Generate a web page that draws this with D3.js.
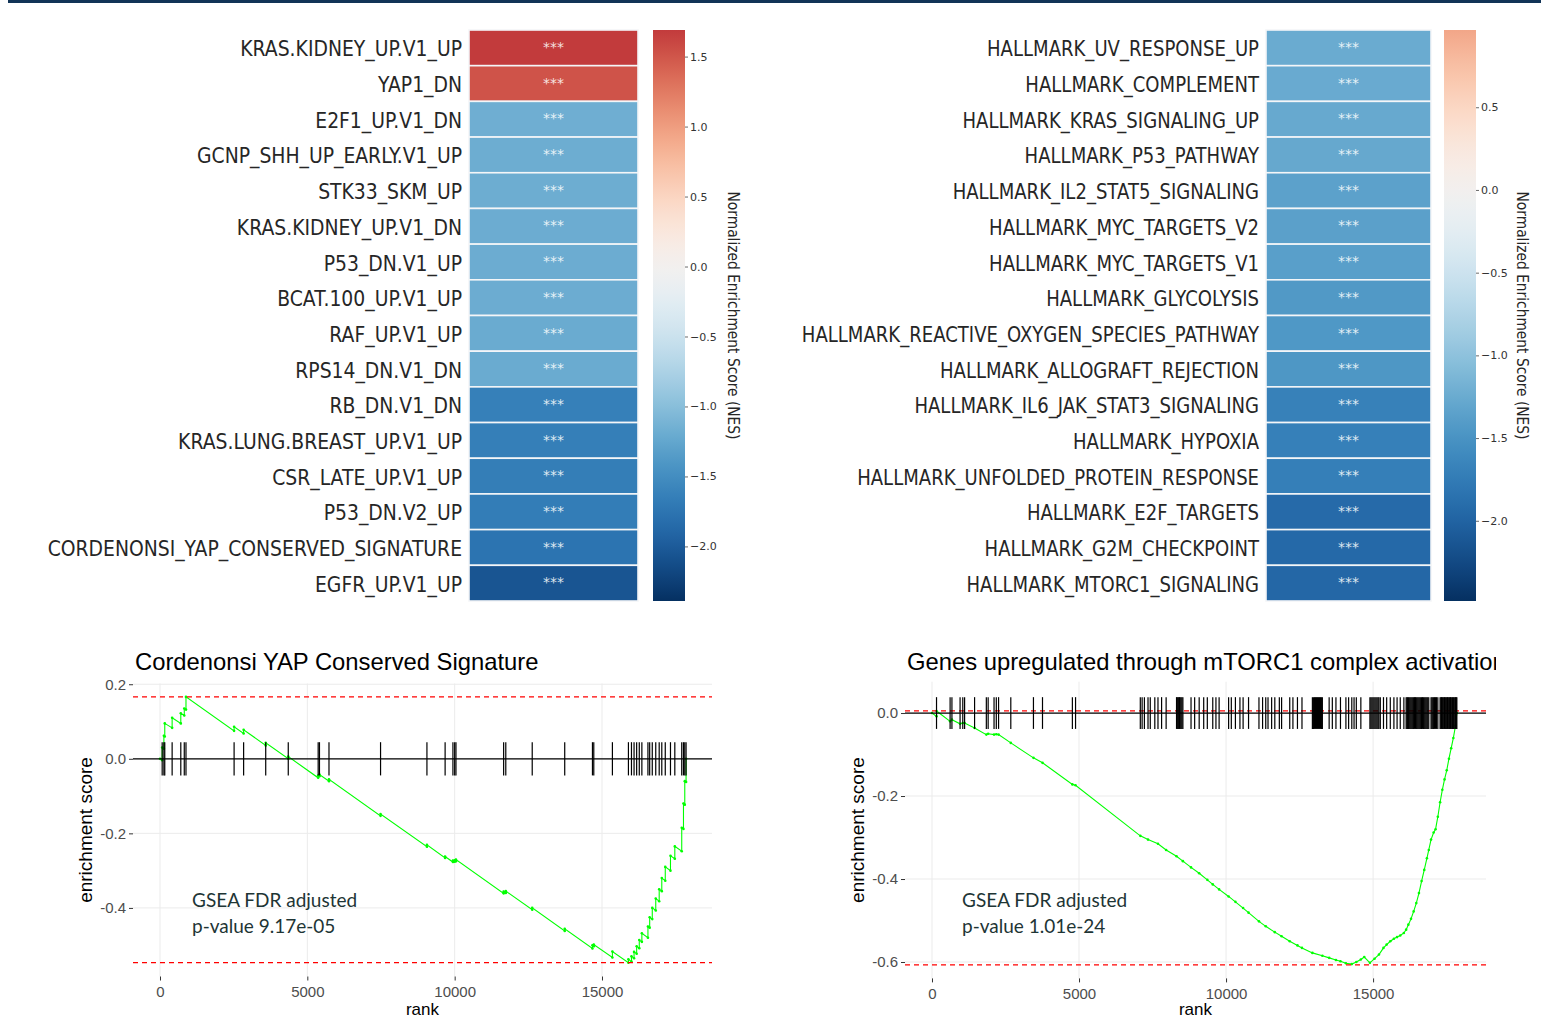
<!DOCTYPE html>
<html>
<head>
<meta charset="utf-8">
<script src="https://cdn.jsdelivr.net/npm/d3@7"></script>
<style>
body { margin: 0; background: #fff; }
svg { display: block; }
</style>
</head>
<body>
<svg id="chart" width="1541" height="1020"></svg>
<script>
// ---- heatmap data ----
var leftSets = ["KRAS.KIDNEY_UP.V1_UP", "YAP1_DN", "E2F1_UP.V1_DN", "GCNP_SHH_UP_EARLY.V1_UP",
    "STK33_SKM_UP", "KRAS.KIDNEY_UP.V1_DN", "P53_DN.V1_UP", "BCAT.100_UP.V1_UP", "RAF_UP.V1_UP",
    "RPS14_DN.V1_DN", "RB_DN.V1_DN", "KRAS.LUNG.BREAST_UP.V1_UP", "CSR_LATE_UP.V1_UP",
    "P53_DN.V2_UP", "CORDENONSI_YAP_CONSERVED_SIGNATURE", "EGFR_UP.V1_UP"];
var leftNes = [1.69, 1.52, -1.17, -1.18, -1.18, -1.19, -1.19, -1.19, -1.20, -1.20,
    -1.64, -1.65, -1.66, -1.67, -1.76, -2.06];
var leftStars = ["***", "***", "***", "***", "***", "***", "***", "***", "***", "***",
    "***", "***", "***", "***", "***", "***"];

var rightSets = ["HALLMARK_UV_RESPONSE_UP", "HALLMARK_COMPLEMENT", "HALLMARK_KRAS_SIGNALING_UP",
    "HALLMARK_P53_PATHWAY", "HALLMARK_IL2_STAT5_SIGNALING", "HALLMARK_MYC_TARGETS_V2",
    "HALLMARK_MYC_TARGETS_V1", "HALLMARK_GLYCOLYSIS", "HALLMARK_REACTIVE_OXYGEN_SPECIES_PATHWAY",
    "HALLMARK_ALLOGRAFT_REJECTION", "HALLMARK_IL6_JAK_STAT3_SIGNALING", "HALLMARK_HYPOXIA",
    "HALLMARK_UNFOLDED_PROTEIN_RESPONSE", "HALLMARK_E2F_TARGETS", "HALLMARK_G2M_CHECKPOINT",
    "HALLMARK_MTORC1_SIGNALING"];
var rightNes = [-1.25, -1.26, -1.27, -1.28, -1.35, -1.36, -1.37, -1.44, -1.45, -1.46,
    -1.69, -1.70, -1.71, -1.93, -1.94, -1.96];
var rightStars = leftStars;

var leftCbRange = [-2.39, 1.69];
var leftCbTicks = [-2, -1.5, -1, -0.5, 0, 0.5, 1, 1.5];
var rightCbRange = [-2.485, 0.967];
var rightCbTicks = [-2, -1.5, -1, -0.5, 0, 0.5];

// ---- running enrichment score plots ----
var yapHits = [74, 132, 162, 412, 706, 824, 882, 2515, 2838, 3588, 4353, 5368, 5412, 5735, 7485,
    9059, 9676, 9941, 10000, 10044, 11662, 11735, 12632, 13735, 14676, 14721, 15353, 15897, 16000,
    16088, 16176, 16265, 16353, 16559, 16618, 16706, 16824, 16941, 17029, 17147, 17324, 17471,
    17706, 17765, 17809, 17853];
var yapCurve = [[0, 0], [74, -0.004], [74, 0.030], [132, 0.027], [132, 0.062], [162, 0.060],
    [162, 0.095], [412, 0.083], [412, 0.110], [706, 0.095], [706, 0.122], [824, 0.116], [824, 0.135],
    [882, 0.132], [882, 0.166], [2515, 0.075], [2515, 0.086], [2838, 0.068], [2838, 0.078],
    [3588, 0.036], [3588, 0.043], [4353, 0.0], [4353, 0.006], [5368, -0.051], [5368, -0.045],
    [5412, -0.047], [5412, -0.042], [5735, -0.060], [5735, -0.055], [7485, -0.153], [7485, -0.148],
    [9059, -0.236], [9059, -0.231], [9676, -0.266], [9676, -0.262], [9941, -0.277], [9941, -0.273],
    [10000, -0.276], [10000, -0.272], [10044, -0.275], [10044, -0.270], [11662, -0.361],
    [11662, -0.356], [11735, -0.360], [11735, -0.355], [12632, -0.405], [12632, -0.400],
    [13735, -0.462], [13735, -0.456], [14676, -0.509], [14676, -0.500], [14721, -0.503],
    [14721, -0.498], [15353, -0.533], [15353, -0.517], [15897, -0.547], [15897, -0.538],
    [16000, -0.544], [16000, -0.530], [16088, -0.535], [16088, -0.518], [16176, -0.523],
    [16176, -0.503], [16265, -0.508], [16265, -0.486], [16353, -0.491], [16353, -0.468],
    [16559, -0.480], [16559, -0.450], [16618, -0.453], [16618, -0.425], [16706, -0.430],
    [16706, -0.400], [16824, -0.407], [16824, -0.375], [16941, -0.382], [16941, -0.350],
    [17029, -0.355], [17029, -0.320], [17147, -0.327], [17147, -0.290], [17324, -0.300],
    [17324, -0.260], [17471, -0.268], [17471, -0.235], [17706, -0.248], [17706, -0.185],
    [17765, -0.188], [17765, -0.120], [17809, -0.123], [17809, -0.060], [17853, -0.062], [17853, 0]];
var yapEsRange = [-0.547, 0.166];

var mtorHits = [154, 616, 678, 955, 1047, 1109, 1448, 1848, 1910, 2110, 2187, 2264, 2680, 3450,
    3758, 4774, 4882, 7084, 7146, 7223, 7346, 7423, 7577, 7685, 7808, 7962, 8316, 8340, 8365, 8390,
    8415, 8440, 8470, 8500, 8532, 8809, 8932, 9086, 9240, 9363, 9548, 9656, 9764, 10087, 10179,
    10318, 10472, 10580, 10765, 11119, 11242, 11350, 11427, 11550, 11658, 11812, 11889, 12166,
    12274, 12428, 12582, 12936, 12970, 13005, 13040, 13075, 13110, 13145, 13180, 13215, 13250,
    13275, 13506, 13614, 13737, 13891, 14076, 14168, 14276, 14353, 14430, 14584, 14892, 14925,
    14960, 14995, 15030, 15065, 15100, 15135, 15170, 15200, 15246, 15354, 15462, 15585, 15708,
    15816, 15924, 16047, 16124, 16150, 16175, 16200, 16230, 16260, 16290, 16320, 16350, 16380,
    16410, 16440, 16470, 16500, 16530, 16560, 16590, 16620, 16650, 16680, 16710, 16740, 16770,
    16800, 16830, 16860, 16894, 16971, 17000, 17030, 17060, 17090, 17125, 17160, 17202, 17279,
    17305, 17330, 17355, 17380, 17405, 17430, 17455, 17480, 17505, 17530, 17555, 17580, 17605,
    17630, 17655, 17680, 17705, 17730, 17755, 17780, 17805, 17830, 17849];
var mtorCurve = [[0, 0], [154, -0.008], [154, 0.005], [616, -0.020], [678, -0.016], [955, -0.026],
    [1047, -0.024], [1109, -0.024], [1448, -0.036], [1848, -0.052], [1910, -0.050], [2110, -0.052],
    [2187, -0.051], [2264, -0.052], [2680, -0.072], [3450, -0.108], [3758, -0.120], [4774, -0.172],
    [4882, -0.174], [7084, -0.296], [7346, -0.305], [7685, -0.315], [7962, -0.330], [8316, -0.345],
    [8532, -0.357], [8809, -0.372], [9086, -0.386], [9363, -0.402], [9548, -0.413], [9764, -0.425],
    [10087, -0.442], [10318, -0.455], [10580, -0.470], [10765, -0.481], [11119, -0.502],
    [11350, -0.514], [11658, -0.528], [11889, -0.538], [12166, -0.550], [12428, -0.560],
    [12582, -0.566], [12936, -0.578], [13275, -0.585], [13506, -0.590], [13737, -0.595],
    [13891, -0.598], [14076, -0.603], [14276, -0.605], [14430, -0.600], [14584, -0.594],
    [14700, -0.588], [14892, -0.602], [15050, -0.592], [15200, -0.582], [15354, -0.566],
    [15462, -0.558], [15585, -0.550], [15708, -0.544], [15816, -0.540], [15924, -0.536],
    [16047, -0.530], [16124, -0.522], [16200, -0.510], [16290, -0.496], [16380, -0.478],
    [16470, -0.458], [16560, -0.434], [16650, -0.405], [16740, -0.378], [16830, -0.350],
    [16894, -0.330], [16971, -0.305], [17060, -0.288], [17125, -0.280], [17202, -0.250],
    [17279, -0.215], [17355, -0.185], [17430, -0.160], [17505, -0.138], [17580, -0.110],
    [17655, -0.085], [17730, -0.060], [17805, -0.030], [17849, 0]];
var mtorEsRange = [-0.607, 0.005];

var rankTicks = [0, 5000, 10000, 15000];
var yapScoreTicks = [0.2, 0, -0.2, -0.4];
var mtorScoreTicks = [0, -0.2, -0.4, -0.6];

var svg = d3.select('#chart');

// thin banner rule across the top of the slide
svg.append('rect')
    .attr('x', 8).attr('y', 0)
    .attr('width', 1533).attr('height', 3)
    .attr('fill', '#123457');

drawHeatmap(svg.append('g'), {
    names: leftSets, values: leftNes, stars: leftStars,
    cbRange: leftCbRange, cbTicks: leftCbTicks,
    left: 469, right: 638, top: 30, bottom: 601,
    labelX: 462, labelScale: 0.895, cbLeft: 653, cbWidth: 32, titleX: 733, id: 'cbL'
});

drawHeatmap(svg.append('g'), {
    names: rightSets, values: rightNes, stars: rightStars,
    cbRange: rightCbRange, cbTicks: rightCbTicks,
    left: 1266, right: 1431, top: 30, bottom: 601,
    labelX: 1259, labelScale: 0.86, cbLeft: 1444, cbWidth: 32, titleX: 1522, id: 'cbR'
});

drawGsea(svg.append('g'), {
    title: 'Cordenonsi YAP Conserved Signature', titleX: 135,
    hits: yapHits, curve: yapCurve, esRange: yapEsRange,
    yTicks: yapScoreTicks,
    xDomain: [-916, 18733], yDomain: [-0.584, 0.202],
    left: 133, right: 712, top: 683.5, bottom: 976.5,
    yLabelX: 85, pval: 'p-value 9.17e-05', noteX: 192
});

drawGsea(svg.append('g'), {
    title: 'Genes upregulated through mTORC1 complex activation', titleX: 907,
    hits: mtorHits, curve: mtorCurve, esRange: mtorEsRange,
    yTicks: mtorScoreTicks,
    xDomain: [-918, 18840], yDomain: [-0.6395, 0.0755],
    left: 905, right: 1486, top: 681.7, bottom: 978.4,
    yLabelX: 857, pval: 'p-value 1.01e-24', noteX: 962, clip: 1496
});

function drawHeatmap(g, o) {
    var m = d3.max(o.cbRange, Math.abs);
    var color = d3.scaleDiverging(function(t) { return d3.interpolateRdBu(1 - t); })
        .domain([-m, 0, m]);

    var y = d3.scaleBand()
        .domain(o.names)
        .range([o.top, o.bottom]);

    g.selectAll('rect.cell')
        .data(o.names)
        .enter()
        .append('rect')
        .attr('class', 'cell')
        .attr('x', o.left)
        .attr('y', function(d) { return y(d); })
        .attr('width', o.right - o.left)
        .attr('height', y.bandwidth())
        .attr('fill', function(d, i) { return color(o.values[i]); })
        .attr('stroke', '#f4f6f8')
        .attr('stroke-width', 1.6);

    g.selectAll('text.star')
        .data(o.names)
        .enter()
        .append('text')
        .attr('class', 'star')
        .attr('x', (o.left + o.right) / 2)
        .attr('y', function(d) { return y(d) + y.bandwidth() / 2; })
        .attr('dy', '0.3em')
        .attr('text-anchor', 'middle')
        .attr('font-family', 'DejaVu Sans')
        .attr('font-size', '14px')
        .attr('fill', '#ffffff')
        .attr('fill-opacity', 0.85)
        .text(function(d, i) { return o.stars[i]; });

    // row labels (matplotlib text, squeezed horizontally in the slide)
    g.selectAll('text.row')
        .data(o.names)
        .enter()
        .append('text')
        .attr('class', 'row')
        .attr('transform', function(d) {
            return 'translate(' + o.labelX + ',' + (y(d) + y.bandwidth() / 2 + 1) + ') scale(' + o.labelScale + ',1)';
        })
        .attr('dy', '0.36em')
        .attr('text-anchor', 'end')
        .attr('font-family', 'DejaVu Sans')
        .attr('font-size', '21px')
        .attr('fill', '#262626')
        .text(function(d) { return d; });

    // colour bar
    var cb = d3.scaleLinear()
        .domain(o.cbRange)
        .range([o.bottom, o.top]);

    var grad = g.append('defs').append('linearGradient')
        .attr('id', o.id)
        .attr('x1', 0).attr('y1', 1).attr('x2', 0).attr('y2', 0);
    grad.selectAll('stop')
        .data(d3.range(0, 1.0001, 0.02))
        .enter()
        .append('stop')
        .attr('offset', function(t) { return t; })
        .attr('stop-color', function(t) {
            return color(o.cbRange[0] + t * (o.cbRange[1] - o.cbRange[0]));
        });

    g.append('rect')
        .attr('x', o.cbLeft).attr('y', o.top)
        .attr('width', o.cbWidth).attr('height', o.bottom - o.top)
        .attr('fill', 'url(#' + o.id + ')');

    var cbAxis = d3.axisRight(cb)
        .tickValues(o.cbTicks)
        .tickSize(3)
        .tickPadding(2)
        .tickFormat(d3.format('.1f'));

    var ax = g.append('g')
        .attr('transform', 'translate(' + (o.cbLeft + o.cbWidth) + ',0)')
        .call(cbAxis);
    ax.select('.domain').remove();
    ax.selectAll('line').attr('stroke', '#444').attr('stroke-width', 0.8);
    ax.selectAll('text')
        .attr('font-family', 'DejaVu Sans')
        .attr('font-size', '11px')
        .attr('fill', '#333');

    g.append('text')
        .attr('transform', 'translate(' + o.titleX + ',' + ((o.top + o.bottom) / 2) + ') rotate(90) scale(0.92,1)')
        .attr('text-anchor', 'middle')
        .attr('dy', '0.35em')
        .attr('font-family', 'DejaVu Sans')
        .attr('font-size', '15px')
        .attr('fill', '#262626')
        .text('Normalized Enrichment Score (NES)');
}

function drawGsea(g, o) {
    var x = d3.scaleLinear()
        .domain(o.xDomain)
        .range([o.left, o.right]);

    var y = d3.scaleLinear()
        .domain(o.yDomain)
        .range([o.bottom, o.top]);

    // grid
    g.append('g').selectAll('line')
        .data(rankTicks)
        .enter()
        .append('line')
        .attr('x1', function(d) { return x(d); })
        .attr('x2', function(d) { return x(d); })
        .attr('y1', o.top).attr('y2', o.bottom)
        .attr('stroke', '#ebebeb');

    g.append('g').selectAll('line')
        .data(o.yTicks)
        .enter()
        .append('line')
        .attr('x1', o.left).attr('x2', o.right)
        .attr('y1', function(d) { return y(d); })
        .attr('y2', function(d) { return y(d); })
        .attr('stroke', '#ebebeb');

    // running score
    var line = d3.line()
        .x(function(d) { return x(d[0]); })
        .y(function(d) { return y(d[1]); });

    g.append('g').selectAll('circle')
        .data(o.curve)
        .enter()
        .append('circle')
        .attr('cx', function(d) { return x(d[0]); })
        .attr('cy', function(d) { return y(d[1]); })
        .attr('r', 1.3)
        .attr('fill', '#00ff00');

    g.append('path')
        .datum(o.curve)
        .attr('d', line)
        .attr('fill', 'none')
        .attr('stroke', '#00ff00')
        .attr('stroke-width', 1.1);

    // max / min enrichment
    g.append('g').selectAll('line')
        .data(o.esRange)
        .enter()
        .append('line')
        .attr('x1', o.left).attr('x2', o.right)
        .attr('y1', function(d) { return y(d); })
        .attr('y2', function(d) { return y(d); })
        .attr('stroke', '#ff0000')
        .attr('stroke-width', 1.2)
        .attr('stroke-dasharray', '5,4');

    g.append('line')
        .attr('x1', o.left).attr('x2', o.right)
        .attr('y1', y(0)).attr('y2', y(0))
        .attr('stroke', '#000')
        .attr('stroke-width', 1.2);

    // gene set hits
    var half = (o.esRange[1] - o.esRange[0]) / 16;
    g.append('g').selectAll('line')
        .data(o.hits)
        .enter()
        .append('line')
        .attr('x1', function(d) { return x(d); })
        .attr('x2', function(d) { return x(d); })
        .attr('y1', y(half))
        .attr('y2', y(-half))
        .attr('stroke', '#000')
        .attr('stroke-width', 1.2);

    // axes
    var xAxis = d3.axisBottom(x)
        .tickValues(rankTicks)
        .tickSize(4)
        .tickPadding(6)
        .tickFormat(d3.format('d'));

    var yAxis = d3.axisLeft(y)
        .tickValues(o.yTicks)
        .tickSize(4)
        .tickPadding(3)
        .tickFormat(function(d) { return d.toFixed(1); });

    var xa = g.append('g')
        .attr('transform', 'translate(0,' + o.bottom + ')')
        .call(xAxis);
    var ya = g.append('g')
        .attr('transform', 'translate(' + o.left + ',0)')
        .call(yAxis);

    [xa, ya].forEach(function(a) {
        a.select('.domain').remove();
        a.selectAll('line').attr('stroke', '#333');
        a.selectAll('text')
            .attr('font-family', 'Liberation Sans, Arial')
            .attr('font-size', '15px')
            .attr('fill', '#4d4d4d');
    });

    // titles
    var title = g.append('text')
        .attr('x', o.titleX)
        .attr('y', 670)
        .attr('font-family', 'Liberation Sans, Arial')
        .attr('font-size', '23.8px')
        .attr('fill', '#000')
        .text(o.title);

    if (o.clip) {
        g.append('clipPath')
            .attr('id', 'titleClip')
            .append('rect')
            .attr('x', 0).attr('y', 600)
            .attr('width', o.clip).attr('height', 100);
        title.attr('clip-path', 'url(#titleClip)');
    }

    g.append('text')
        .attr('transform', 'translate(' + o.yLabelX + ',' + ((o.top + o.bottom) / 2) + ') rotate(-90)')
        .attr('text-anchor', 'middle')
        .attr('dy', '0.35em')
        .attr('font-family', 'Liberation Sans, Arial')
        .attr('font-size', '19px')
        .attr('fill', '#000')
        .text('enrichment score');

    g.append('text')
        .attr('x', (o.left + o.right) / 2)
        .attr('y', 1015)
        .attr('text-anchor', 'middle')
        .attr('font-family', 'Liberation Sans, Arial')
        .attr('font-size', '17px')
        .attr('fill', '#000')
        .text('rank');

    // p-value note
    var note = g.append('text')
        .attr('x', o.noteX)
        .attr('y', 907)
        .attr('font-family', 'Lato')
        .attr('font-size', '19px')
        .attr('fill', '#1e3535');
    note.append('tspan').attr('x', o.noteX).text('GSEA FDR adjusted');
    note.append('tspan').attr('x', o.noteX).attr('dy', 26).text(o.pval);
}
</script>
</body>
</html>
